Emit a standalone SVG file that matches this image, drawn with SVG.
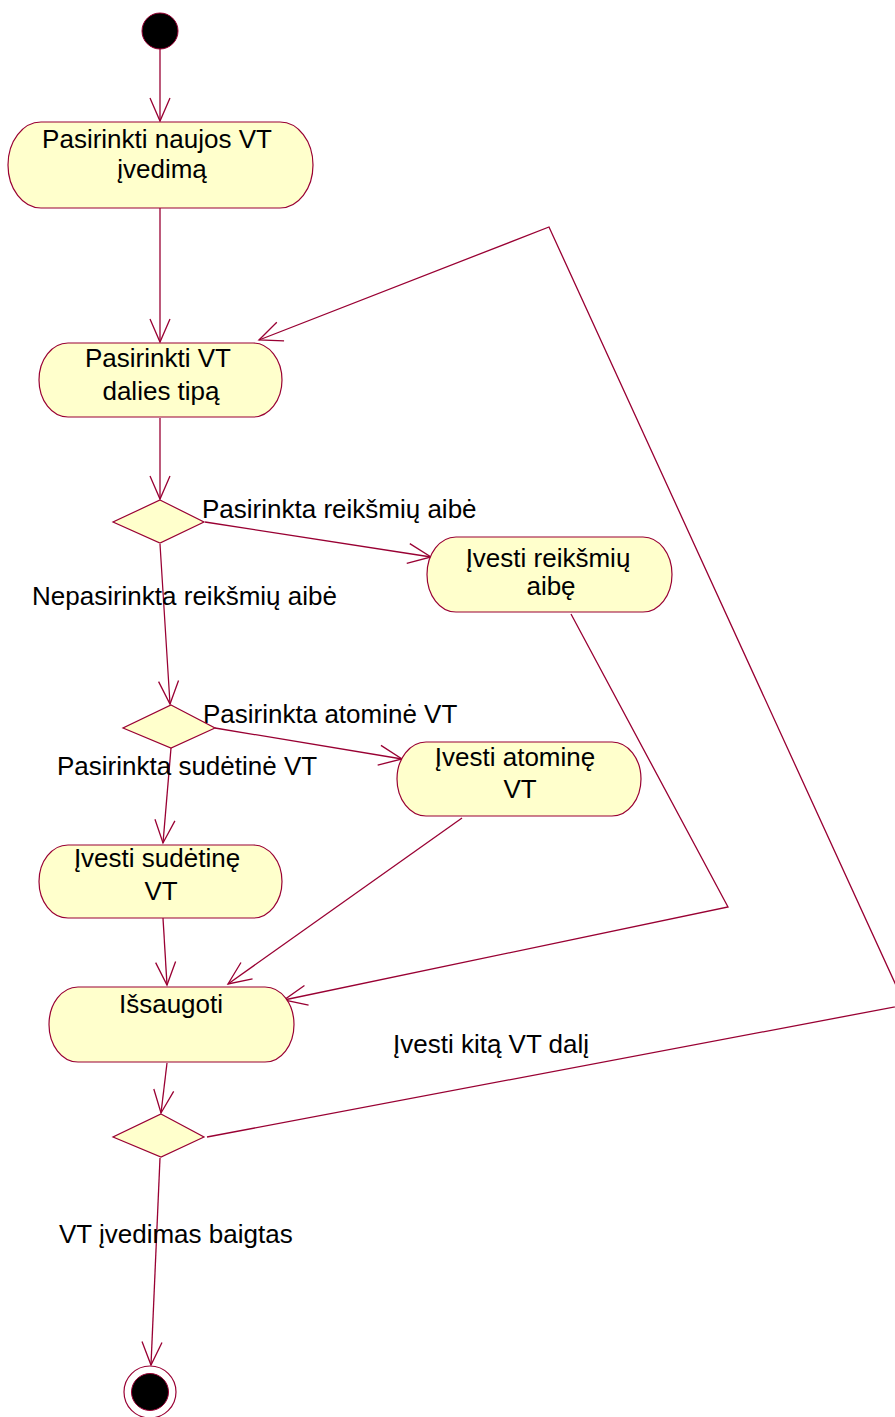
<svg xmlns="http://www.w3.org/2000/svg" width="895" height="1417" viewBox="0 0 895 1417">
  <style>
    .act { fill: #FFFFCC; stroke: #990033; stroke-width: 1.2; }
    .dec { fill: #FFFFCC; stroke: #990033; stroke-width: 1.2; }
    .edge { fill: none; stroke: #990033; stroke-width: 1.3; marker-end: url(#arrow); }
    .lbl { font-family: "Liberation Sans", Arial, sans-serif; font-size: 26px; fill: #000; }
    .mid { text-anchor: middle; }
  </style>
  <defs>
    <marker id="arrow" markerUnits="userSpaceOnUse" markerWidth="30" markerHeight="26" viewBox="-25 -13 30 26" refX="0" refY="0" orient="auto" overflow="visible">
      <path d="M-23,-10 L0,0 L-23,10" fill="none" stroke="#990033" stroke-width="1.3"/>
    </marker>
  </defs>
  <rect width="895" height="1417" fill="#FFFFFF"/>

  <!-- connectors -->
  <g id="connectors">
    <path class="edge" d="M160,49 L160,121"/>
    <path class="edge" d="M160,208 L160,342"/>
    <path class="edge" d="M160,418 L160,499"/>
    <path class="edge" d="M205,522 L431,557"/>
    <path class="edge" d="M160,544 L170,704"/>
    <path class="edge" d="M215,728 L402,759"/>
    <path class="edge" d="M171,748 L163,843"/>
    <path class="edge" d="M163,918 L167,985"/>
    <path class="edge" d="M462,818 L228,984"/>
    <path class="edge" d="M571,614 L728,907 L284,1000"/>
    <path class="edge" d="M167,1063 L161,1113"/>
    <path class="edge" d="M207,1137 L905,1005 L549,227 L259,340"/>
    <path class="edge" d="M160,1158 L151,1365"/>
    <text class="lbl" x="202" y="518">Pasirinkta reikšmių aibė</text>
    <text class="lbl" x="32" y="605">Nepasirinkta reikšmių aibė</text>
    <text class="lbl" x="203" y="723">Pasirinkta atominė VT</text>
    <text class="lbl" x="57" y="775">Pasirinkta sudėtinė VT</text>
    <text class="lbl" x="393" y="1053">Įvesti kitą VT dalį</text>
    <text class="lbl" x="59" y="1243">VT įvedimas baigtas</text>
  </g>

  <g id="start">
    <circle cx="160" cy="31" r="18" fill="#000" stroke="#990033" stroke-width="1"/>
  </g>

  <g id="select-new">
    <rect class="act" x="8" y="122" width="305" height="86" rx="33" ry="43"/>
    <text class="lbl mid" x="157" y="148">Pasirinkti naujos VT</text>
    <text class="lbl mid" x="162" y="178">įvedimą</text>
  </g>

  <g id="select-part">
    <rect class="act" x="39" y="343" width="243" height="74" rx="29" ry="37"/>
    <text class="lbl mid" x="158" y="367">Pasirinkti VT</text>
    <text class="lbl mid" x="161" y="400">dalies tipą</text>
  </g>

  <g id="decision-set">
    <polygon class="dec" points="160,500 204,522 160,543 113,522"/>
  </g>

  <g id="enter-set">
    <rect class="act" x="427" y="537" width="245" height="75" rx="29" ry="37.5"/>
    <text class="lbl mid" x="548" y="567">Įvesti reikšmių</text>
    <text class="lbl mid" x="551" y="595">aibę</text>
  </g>

  <g id="decision-atomic">
    <polygon class="dec" points="171,705 215,728 171,748 123,728"/>
  </g>

  <g id="enter-atomic">
    <rect class="act" x="397" y="742" width="244" height="74" rx="29" ry="37"/>
    <text class="lbl mid" x="515" y="766">Įvesti atominę</text>
    <text class="lbl mid" x="520" y="798">VT</text>
  </g>

  <g id="enter-compound">
    <rect class="act" x="39" y="845" width="243" height="73" rx="29" ry="36.5"/>
    <text class="lbl mid" x="157" y="867">Įvesti sudėtinę</text>
    <text class="lbl mid" x="161" y="900">VT</text>
  </g>

  <g id="save">
    <rect class="act" x="49" y="987" width="245" height="75" rx="29" ry="37.5"/>
    <text class="lbl mid" x="171" y="1013">Išsaugoti</text>
  </g>

  <g id="decision-more">
    <polygon class="dec" points="161,1114 204,1137 161,1157 113,1137"/>
  </g>

  <g id="end">
    <circle cx="150" cy="1392" r="26" fill="#FFFFFF" stroke="#990033" stroke-width="1.2"/>
    <circle cx="150" cy="1392" r="18.5" fill="#000" stroke="#990033" stroke-width="1"/>
  </g>
</svg>
